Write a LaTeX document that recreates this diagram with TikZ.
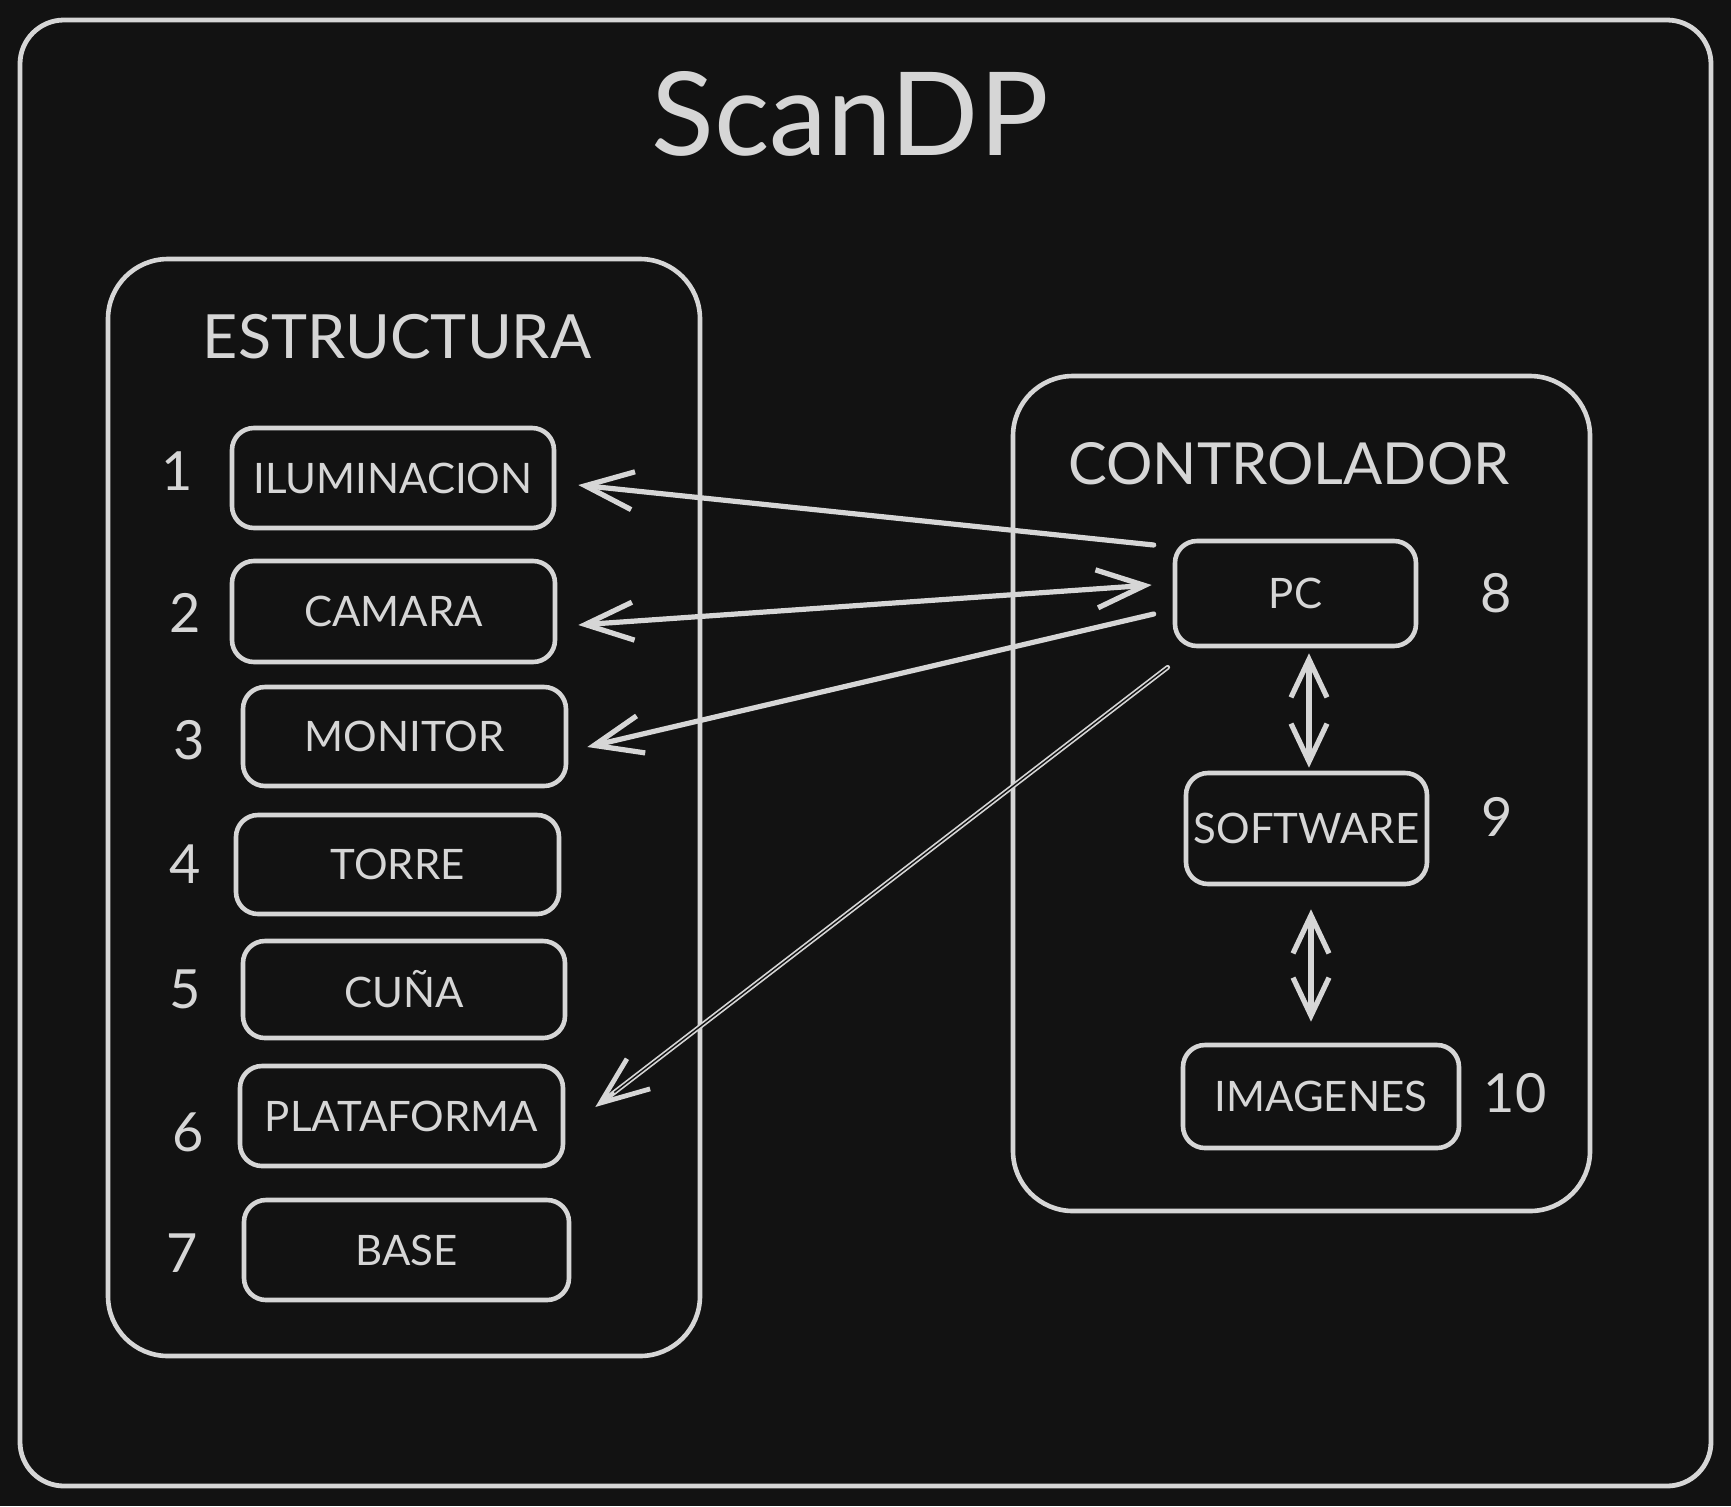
\documentclass[tikz,border=0pt]{standalone}
\usepackage{fontspec}
\setmainfont{Lato}
\usetikzlibrary{arrows.meta,calc}
\definecolor{bg}{RGB}{18,18,18}
\definecolor{fg}{RGB}{214,214,214}
\begin{document}
\begin{tikzpicture}[x=0.5pt,y=-0.5pt,
  every node/.style={text=fg, inner sep=0pt},
  item/.style={draw=fg, line width=2.3pt, rounded corners=11pt, font=\fontsize{21}{24}\selectfont, align=center},
  group/.style={draw=fg, line width=2.3pt, rounded corners=30pt},
  grouplabel/.style={font=\fontsize{29}{32}\selectfont},
  num/.style={font=\fontsize{27}{30}\selectfont},
  arr/.style={draw=fg, line width=2.6pt, line cap=round, -{Straight Barb[length=24pt,width=19pt]}},
  biarr/.style={draw=fg, line width=2.6pt, line cap=round, {Straight Barb[length=24pt,width=19pt]}-{Straight Barb[length=24pt,width=19pt]}},
  vbiarr/.style={draw=fg, line width=2.6pt, line cap=round, {Straight Barb[length=19pt,width=18pt]}-{Straight Barb[length=19pt,width=18pt]}}
]
% background and bounding box
\fill[bg] (0,0) rectangle (1731,1506);
\useasboundingbox (0,0) rectangle (1731,1506);

% outer frame
\node[draw=fg, line width=2.4pt, rounded corners=22pt, minimum width=845.5pt, minimum height=733pt] (frame) at (865.5,753) {};
\node[font=\fontsize{58}{64}\selectfont] (title) at (850,114) {ScanDP};

% containers
\node[group, minimum width=296pt, minimum height=548.5pt] (estr) at (404,807.5) {};
\node[grouplabel, font=\fontsize{30.5}{34}\selectfont] (estrlabel) at (397,337) {ESTRUCTURA};
\node[group, minimum width=288.5pt, minimum height=417.5pt] (ctrl) at (1301.5,793.5) {};
\node[grouplabel] (ctrllabel) at (1289,464) {CONTROLADOR};

% estructura items
\node[item, minimum width=161pt, minimum height=50pt] (ilum) at (393,478) {ILUMINACION};
\node[item, minimum width=161.5pt, minimum height=50.5pt] (cam) at (393.5,611.5) {CAMARA};
\node[item, minimum width=161.5pt, minimum height=49.5pt] (mon) at (404.5,736.5) {MONITOR};
\node[item, minimum width=161.5pt, minimum height=49.5pt] (torre) at (397.5,864.5) {TORRE};
\node[item, minimum width=161pt, minimum height=48.5pt] (cuna) at (404,989.5) {CUÑA};
\node[item, minimum width=161.5pt, minimum height=50pt] (plat) at (401.5,1116) {PLATAFORMA};
\node[item, minimum width=162.5pt, minimum height=50pt] (base) at (406.5,1250) {BASE};

\node[num] (n1) at (177,471) {1};
\node[num] (n2) at (185,613) {2};
\node[num] (n3) at (189,740) {3};
\node[num] (n4) at (185,864) {4};
\node[num] (n5) at (185,989) {5};
\node[num] (n6) at (188,1132) {6};
\node[num] (n7) at (182,1253) {7};

% controlador items
\node[item, minimum width=120.5pt, minimum height=52.5pt] (pc) at (1295.5,593.5) {PC};
\node[item, minimum width=120.5pt, minimum height=55.5pt] (sw) at (1306.5,828.5) {SOFTWARE};
\node[item, minimum width=138pt, minimum height=51.5pt] (img) at (1321,1096.5) {IMAGENES};

\node[num] (n8) at (1496,593) {8};
\node[num] (n9) at (1497,817) {9};
\node[num] (n10) at (1515,1093) {10};

% connectors
\draw[arr] ($(pc.west)+(-19,-48.5)$) -- ($(ilum.east)+(22,7)$);
\draw[biarr] ($(cam.east)+(21,13.5)$) -- ($(pc.west)+(-21,-8.5)$);
\draw[arr] ($(pc.west)+(-19,20.5)$) -- ($(mon.east)+(19,10.5)$);
\coordinate (pA) at ($(pc.south west)+(-5,19)$);
\coordinate (pB) at ($(plat.east)+(30,-9)$);
\draw[arr, line width=2.4pt] (pA) -- (pB);
\draw[bg, line width=0.7pt, shorten >=12pt] (pA) -- (pB);
\draw[vbiarr] ($(pc.south)+(13.5,5)$) -- ($(sw.north)+(2.5,-3)$);
\draw[vbiarr] ($(sw.south)+(4.5,23)$) -- ($(img.north)+(-10,-21)$);
\end{tikzpicture}
\end{document}
